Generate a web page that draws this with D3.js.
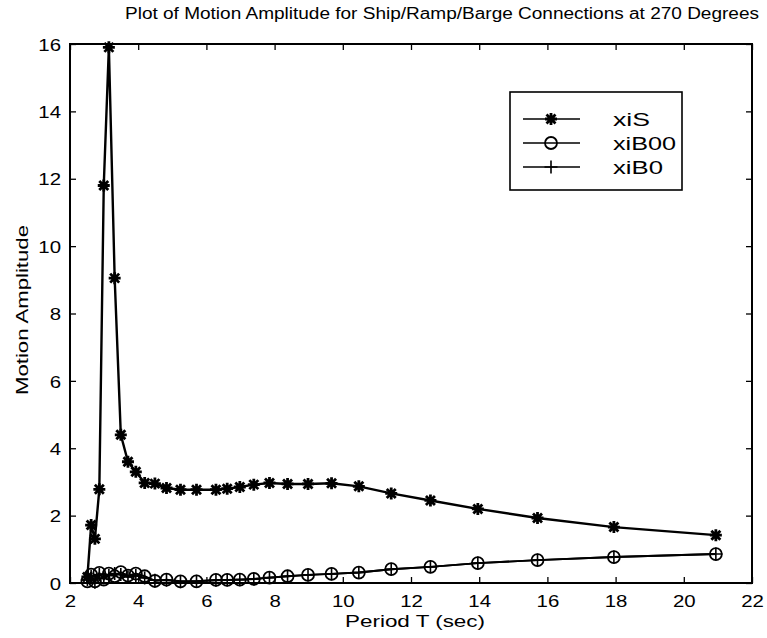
<!DOCTYPE html>
<html><head><meta charset="utf-8">
<script src="https://cdn.jsdelivr.net/npm/d3@7"></script>
<style>body{margin:0;background:#fff}svg{display:block}text{font-family:"Liberation Sans",Arial,sans-serif;fill:#000}</style>
</head><body>
<script>
const periods = [2.51,2.62,2.73,2.86,2.99,3.14,3.31,3.49,3.70,3.93,4.19,4.49,4.83,5.24,5.71,6.28,6.61,6.98,7.39,7.85,8.38,8.98,9.67,10.47,11.42,12.57,13.96,15.71,17.95,20.94];
const xiS   = [0.18,1.72,1.31,2.78,11.8,15.9,9.05,4.4,3.6,3.3,2.97,2.95,2.82,2.77,2.77,2.77,2.8,2.85,2.92,2.97,2.94,2.94,2.96,2.87,2.66,2.45,2.2,1.93,1.66,1.42];
const xiB00 = [0.05,0.25,0.05,0.3,0.1,0.28,0.2,0.32,0.22,0.28,0.2,0.06,0.1,0.05,0.05,0.09,0.09,0.1,0.12,0.16,0.2,0.24,0.27,0.31,0.41,0.48,0.59,0.68,0.77,0.86];
const xiB0  = [0.1,0.2,0.02,0.25,0.15,0.22,0.28,0.25,0.18,0.22,0.15,0.08,0.08,0.04,0.05,0.08,0.09,0.1,0.12,0.16,0.2,0.24,0.27,0.31,0.41,0.48,0.59,0.68,0.77,0.86];
const seriesNames = ["xiS","xiB00","xiB0"];
const xTicks = [2,4,6,8,10,12,14,16,18,20,22];
const yTicks = [0,2,4,6,8,10,12,14,16];
const titleText = "Plot of Motion Amplitude for Ship/Ramp/Barge Connections at 270 Degrees";
const xLabel = "Period T (sec)";
const yLabel = "Motion Amplitude";

const W = 767, H = 638;
const m = {left:70, right:767-752, top:44, bottom:638-583};
const svg = d3.select("body").append("svg").attr("width",W).attr("height",H);
const x = d3.scaleLinear().domain([2,22]).range([m.left, W-m.right]);
const y = d3.scaleLinear().domain([0,16]).range([H-m.bottom, m.top]);
const FONT = "'Liberation Sans',Arial,sans-serif";
function stretch(k){
  return sel => sel.each(function(){
    const w = this.getComputedTextLength();
    d3.select(this).attr("textLength", w*k).attr("lengthAdjust","spacingAndGlyphs");
  });
}

// title
svg.append("text").attr("x",442).attr("y",19).attr("text-anchor","middle")
  .attr("font-size",16).attr("textLength",634).attr("lengthAdjust","spacingAndGlyphs").text(titleText);

// axes (ticks inward)
const g = svg.append("g");
const ax = (gen, tr) => g.append("g").attr("transform",tr).call(gen);
const styleAxis = sel => { sel.select(".domain").remove(); sel.selectAll("line").attr("stroke","#000").attr("stroke-width",1.3); sel.selectAll("text").attr("font-size",17).attr("fill","#000").attr("font-family",FONT); };
const bx = ax(d3.axisBottom(x).tickValues(xTicks).tickSizeInner(-6).tickSizeOuter(0).tickFormat(d3.format("d")), `translate(0,${y(0)})`);
styleAxis(bx);
bx.selectAll("text").attr("dy",null).attr("y",24).call(stretch(1.2));
styleAxis(ax(d3.axisTop(x).tickValues(xTicks).tickSizeInner(-6).tickSizeOuter(0).tickFormat(""), `translate(0,${y(16)})`));
const ly = ax(d3.axisLeft(y).tickValues(yTicks).tickSizeInner(-6).tickSizeOuter(0).tickPadding(9).tickFormat(d3.format("d")), `translate(${x(2)},0)`);
styleAxis(ly);
ly.selectAll("text").attr("dy","0.36em").call(stretch(1.2));
styleAxis(ax(d3.axisRight(y).tickValues(yTicks).tickSizeInner(-6).tickSizeOuter(0).tickFormat(""), `translate(${x(22)},0)`));
g.append("rect").attr("x",x(2)).attr("y",y(16)).attr("width",x(22)-x(2)).attr("height",y(0)-y(16))
  .attr("fill","none").attr("stroke","#000").attr("stroke-width",2);

svg.append("text").attr("x",415).attr("y",627).attr("text-anchor","middle").attr("font-size",16).attr("textLength",140).attr("lengthAdjust","spacingAndGlyphs").text(xLabel);
svg.append("text").attr("transform",`translate(28,${310}) rotate(-90)`).attr("text-anchor","middle").attr("font-size",16).attr("textLength",170).attr("lengthAdjust","spacingAndGlyphs").text(yLabel);

// markers
const star = s => `M${-s},0H${s}M0,${-s}V${s}M${-s*0.75},${-s*0.75}L${s*0.75},${s*0.75}M${-s*0.75},${s*0.75}L${s*0.75},${-s*0.75}`;
const plus = s => `M${-s},0H${s}M0,${-s}V${s}`;
function drawMarker(sel, type){
  if(type==="star") sel.append("path").attr("d",star(6)).attr("stroke","#000").attr("stroke-width",2.8).attr("fill","none");
  else if(type==="circle") sel.append("circle").attr("r",6).attr("stroke","#000").attr("stroke-width",1.8).attr("fill","none");
  else sel.append("path").attr("d",plus(6.5)).attr("stroke","#000").attr("stroke-width",1.6).attr("fill","none");
}
const line = d3.line().x(d=>x(d[0])).y(d=>y(d[1]));
const series = [
  {name:seriesNames[0], vals:xiS, type:"star", w:2.4},
  {name:seriesNames[1], vals:xiB00, type:"circle", w:1.9},
  {name:seriesNames[2], vals:xiB0, type:"plus", w:1.9}
];
const plot = svg.append("g");
series.forEach(s=>{
  const pts = periods.map((p,i)=>[p,s.vals[i]]);
  plot.append("path").datum(pts).attr("d",line).attr("fill","none").attr("stroke","#000").attr("stroke-width",s.w);
  plot.selectAll(null).data(pts).enter().append("g").attr("transform",d=>`translate(${x(d[0])},${y(d[1])})`).each(function(){drawMarker(d3.select(this),s.type);});
});

// legend
const legendWidths = [37,63,50];
const lg = svg.append("g").attr("transform","translate(510,92)");
lg.append("rect").attr("width",172).attr("height",98).attr("fill","#fff").attr("stroke","#000").attr("stroke-width",1.6);
series.forEach((s,i)=>{
  const yy = 27 + i*24;
  lg.append("line").attr("x1",13).attr("x2",70).attr("y1",yy).attr("y2",yy).attr("stroke","#000").attr("stroke-width",1.6);
  drawMarker(lg.append("g").attr("transform",`translate(41,${yy})`), s.type);
  lg.append("text").attr("x",103).attr("y",yy+7).attr("font-size",18).attr("textLength",legendWidths[i]).attr("lengthAdjust","spacingAndGlyphs").text(s.name);
});
</script>
</body></html>
